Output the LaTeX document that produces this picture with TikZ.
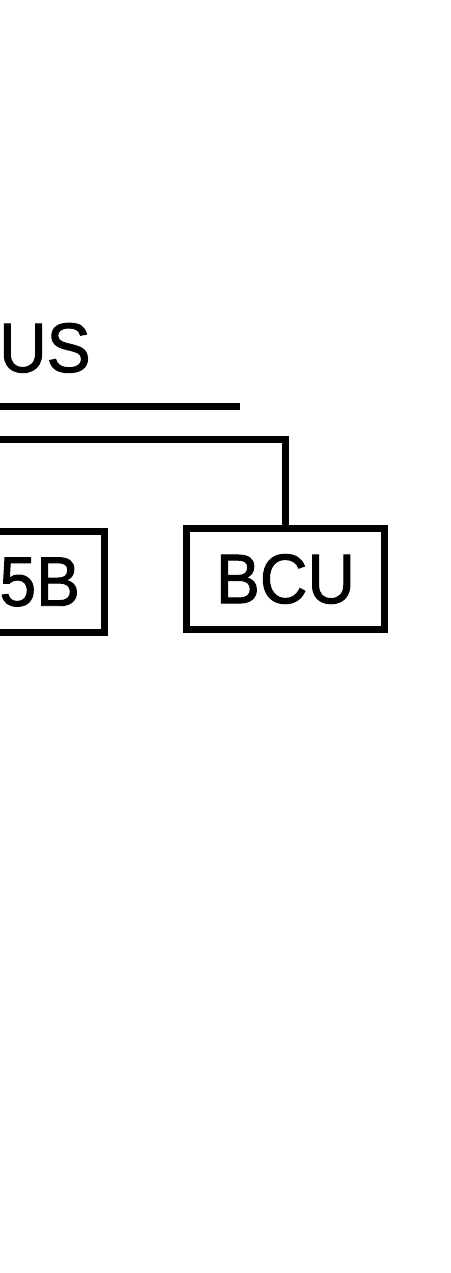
\documentclass[tikz,border=0pt]{standalone}
\usepackage{fontspec}
\setmainfont[FakeBold=1.4, FakeStretch=0.94]{Liberation Sans}
\begin{document}
\begin{tikzpicture}[x=1pt, y=1pt,
    unitbox/.style={draw, line width=7pt, inner sep=0pt, font=\fontsize{70}{70}\selectfont},
    busline/.style={line width=7pt}]
                \useasboundingbox (0,0) rectangle (450,-1273);

                % bus label and bus bars
                \node[anchor=base west, inner sep=0pt, font=\fontsize{70}{70}\selectfont] (buslabel) at (-1,-372) {US};
                \coordinate (bus1W) at (-5,-406);
                \coordinate (bus1E) at (240,-406);
                \coordinate (bus2W) at (-5,-439);

                \draw[busline] (bus1W) -- (bus1E);

                % units
                \node[unitbox, text width=200pt, align=right, inner xsep=24pt, minimum height=101pt, anchor=east] (ms5b) at (107.5,-582) {5B};
                \node[unitbox, minimum width=198pt, minimum height=101pt] (bcu) at (285.5,-579) {BCU};

                \draw[busline] (bus2W) -| (bcu.north);
            \end{tikzpicture}
\end{document}
